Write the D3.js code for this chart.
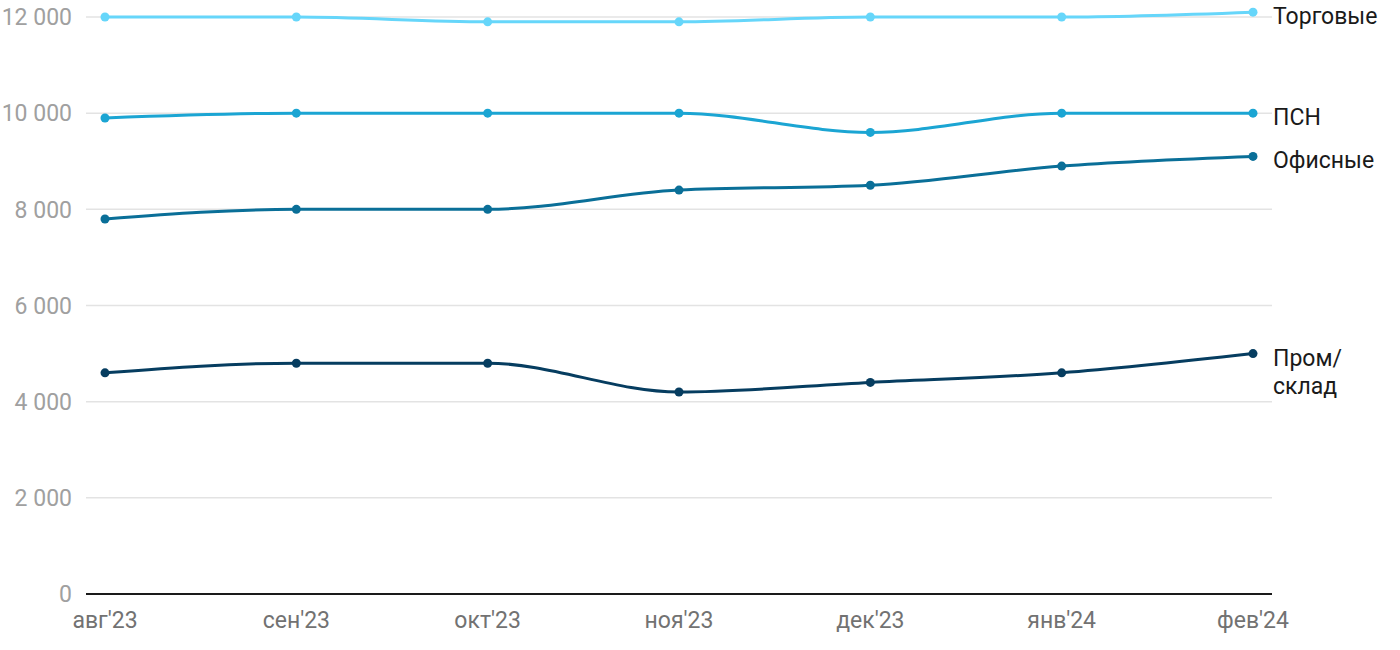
<!DOCTYPE html>
<html><head><meta charset="utf-8">
<script src="https://cdn.jsdelivr.net/npm/d3@7"></script>
<style>body{margin:0;background:#fff;font-family:Roboto,"Noto Sans",sans-serif}</style>
</head><body><svg id="c" width="1400" height="650"></svg>
<script>
const categories = ["авг'23","сен'23","окт'23","ноя'23","дек'23","янв'24","фев'24"];
const torgovye = [12000,12000,11900,11900,12000,12000,12100];
const psn = [9900,10000,10000,10000,9600,10000,10000];
const ofisnye = [7800,8000,8000,8400,8500,8900,9100];
const prom = [4600,4800,4800,4200,4400,4600,5000];
const yTicks = [0,2000,4000,6000,8000,10000,12000];
const seriesNames = [["Торговые"],["ПСН"],["Офисные"],["Пром/","склад"]];

const series = [
  {name:seriesNames[0], values:torgovye, color:"#66d6fa", labelY:16},
  {name:seriesNames[1], values:psn, color:"#1ba5d3", labelY:117},
  {name:seriesNames[2], values:ofisnye, color:"#0a6f98", labelY:160},
  {name:seriesNames[3], values:prom, color:"#063d60", labelY:358}
];

const svg = d3.select("#c");
const x = d3.scalePoint().domain(categories).range([105,1253]);
const y = d3.scaleLinear().domain([0,12000]).range([594,17]);
const fmt = v => d3.format(",")(v).replace(/,/g," ");

const grid = svg.append("g");
grid.selectAll("line").data(yTicks.filter(t=>t>0)).join("line")
  .attr("x1",86).attr("x2",1272).attr("y1",d=>y(d)).attr("y2",d=>y(d))
  .attr("stroke","#e3e3e3").attr("stroke-width",1.5);
grid.selectAll("text").data(yTicks).join("text")
  .attr("x",72).attr("y",d=>y(d)).attr("dy","0.36em").attr("text-anchor","end")
  .attr("fill","#a0a0a0").attr("font-size",23).text(d=>fmt(d));
svg.append("line").attr("x1",86).attr("x2",1272).attr("y1",y(0)).attr("y2",y(0))
  .attr("stroke","#1a1a1a").attr("stroke-width",2);
svg.append("g").selectAll("text").data(categories).join("text")
  .attr("x",d=>x(d)).attr("y",628).attr("text-anchor","middle")
  .attr("fill","#727272").attr("font-size",23).text(d=>d);

const line = d3.line().x((d,i)=>x(categories[i])).y(d=>y(d)).curve(d3.curveMonotoneX);
series.forEach(s=>{
  svg.append("path").attr("d",line(s.values)).attr("fill","none")
    .attr("stroke",s.color).attr("stroke-width",3);
  svg.append("g").selectAll("circle").data(s.values).join("circle")
    .attr("cx",(d,i)=>x(categories[i])).attr("cy",d=>y(d)).attr("r",4.5).attr("fill",s.color);
  const t = svg.append("text").attr("x",1273).attr("y",s.labelY)
    .attr("fill","#1a1a1a").attr("font-size",23);
  s.name.forEach((n,i)=>t.append("tspan").attr("x",1273).attr("dy",i===0?"0.36em":"1.2em").text(n));
});
</script></body></html>
